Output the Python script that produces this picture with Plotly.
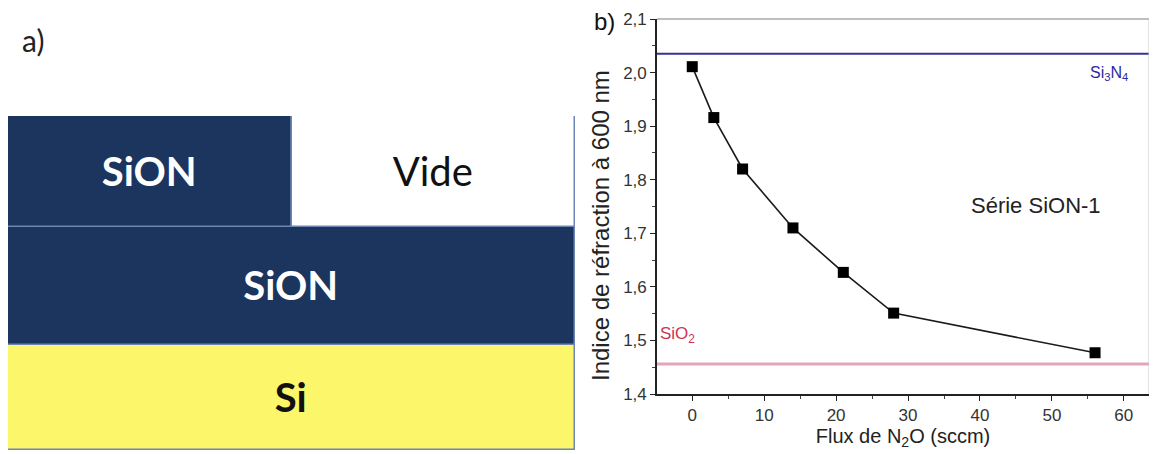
import plotly.graph_objects as go

# ---------- data ----------
# panel a: layer stack (schematic)
layer_names = ["<b>Si</b>", "<b>SiON</b>", "<b>SiON</b>", "Vide"]
layer_x_center = [1.0, 1.0, 0.5, 1.5]
layer_width = [2.0, 2.0, 1.0, 1.0]
layer_base = [0.0, 1.0, 2.12, 2.12]
layer_thickness = [1.0, 1.12, 1.06, 1.06]
layer_colors = ["#fbf66a", "#1b355f", "#1b355f", "#ffffff"]
layer_text_colors = ["#111111", "#ffffff", "#ffffff", "#111111"]

# panel b: refractive index vs N2O flow
flux_n2o = [0, 3, 7, 14, 21, 28, 56]
indice = [2.011, 1.916, 1.820, 1.710, 1.627, 1.551, 1.477]
n_si3n4 = 2.035
n_sio2 = 1.456
y_tick_vals = [1.4, 1.5, 1.6, 1.7, 1.8, 1.9, 2.0, 2.1]
y_tick_text = ["1,4", "1,5", "1,6", "1,7", "1,8", "1,9", "2,0", "2,1"]
x_tick_vals = [0, 10, 20, 30, 40, 50, 60]

W, H = 1157, 454
OFF = 8  # page offset of the figure inside the browser window
def px(x):
    return (x - OFF) / W
def py(y):
    return 1 - (y - OFF) / H

fig = go.Figure()

# ---------- panel a ----------
fig.add_trace(go.Bar(
    x=layer_x_center, y=layer_thickness, base=layer_base, width=layer_width,
    marker=dict(color=layer_colors, line=dict(color="#6d86b3", width=1.5)),
    text=layer_names, textposition="inside", insidetextanchor="middle",
    textangle=0,
    textfont=dict(family="Lato", size=40, color=layer_text_colors),
    xaxis="x2", yaxis="y2", showlegend=False, hoverinfo="skip",
))

# ---------- panel b ----------
fig.add_trace(go.Scatter(
    x=flux_n2o, y=indice, mode="lines+markers",
    line=dict(color="#1a1a1a", width=1.6),
    marker=dict(symbol="square", size=11, color="#000000"),
    showlegend=False, xaxis="x", yaxis="y",
))

fig.add_hline(y=n_si3n4, line=dict(color="#33339a", width=2))
fig.add_hline(y=n_sio2, line=dict(color="#e3a6b6", width=3))

# gray top / right frame
fig.add_shape(type="line", xref="x domain", yref="y domain", x0=0, x1=1, y0=1, y1=1,
              line=dict(color="#a8a8a8", width=1.5))
fig.add_shape(type="line", xref="x domain", yref="y domain", x0=1, x1=1, y0=0, y1=1,
              line=dict(color="#c8c8c8", width=1))

tickfont = dict(family="Liberation Sans", size=17, color="#333333")

fig.update_layout(
    width=W, height=H,
    margin=dict(l=0, r=0, t=0, b=0, autoexpand=False),
    paper_bgcolor="white", plot_bgcolor="white",
    barmode="overlay", bargap=0,
    xaxis=dict(
        domain=[px(657), px(1149)], range=[-4.9, 63.5], automargin=False,
        ticklabeloverflow="allow",
        tickvals=x_tick_vals, ticks="outside", ticklen=5, tickwidth=1.2,
        tickcolor="#222", showline=True, linecolor="#222", linewidth=1.6,
        showgrid=False, zeroline=False, tickfont=tickfont,
        minor=dict(dtick=5, tick0=0, ticks="outside", ticklen=3, tickcolor="#444"),
        title=dict(text="Flux de N<sub>2</sub>O (sccm)",
                   font=dict(family="Liberation Sans", size=20, color="#222"), standoff=0),
    ),
    yaxis=dict(
        domain=[py(394), py(19)], range=[1.4, 2.1], automargin=False,
        ticklabeloverflow="allow",
        tickvals=y_tick_vals, ticktext=y_tick_text, ticks="outside", ticklen=5,
        tickwidth=1.2, tickcolor="#222", showline=True, linecolor="#222", linewidth=1.6,
        showgrid=False, zeroline=False, tickfont=tickfont,
        minor=dict(dtick=0.05, tick0=1.4, ticks="outside", ticklen=3, tickcolor="#444"),
    ),
    xaxis2=dict(domain=[px(8), px(575)], range=[0, 2], visible=False, fixedrange=True,
                automargin=False),
    yaxis2=dict(domain=[py(450), py(116)], range=[0, 3.18], visible=False, fixedrange=True,
                automargin=False),
)

annotations = [
    dict(text="Indice de réfraction à 600 nm", x=px(601), y=py(226), xref="paper",
         yref="paper", textangle=-90, showarrow=False,
         font=dict(family="Liberation Sans", size=24, color="#222")),
    dict(text="a)", x=px(20), y=py(40), xref="paper", yref="paper", xanchor="left",
         yanchor="middle", showarrow=False, font=dict(family="Lato", size=30, color="#222")),
    dict(text="b)", x=px(592), y=py(21), xref="paper", yref="paper", xanchor="left",
         yanchor="middle", showarrow=False,
         font=dict(family="Liberation Sans", size=24, color="#111")),
    dict(text="Série SiON-1", x=47.8, y=1.752, xref="x", yref="y", showarrow=False,
         font=dict(family="Liberation Sans", size=22, color="#222")),
    dict(text="Si<sub>3</sub>N<sub>4</sub>", x=58.0, y=1.998, xref="x", yref="y",
         showarrow=False, font=dict(family="Liberation Sans", size=16, color="#2a2aa0")),
    dict(text="SiO<sub>2</sub>", x=-4.8, y=1.51, xref="x", yref="y", xanchor="left",
         showarrow=False, font=dict(family="Liberation Sans", size=17, color="#cc3355")),
]
fig.update_layout(annotations=annotations)

fig.write_html("out.html")
